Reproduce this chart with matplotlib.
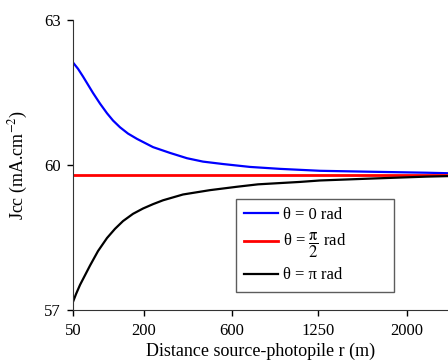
import matplotlib
matplotlib.use('Agg')
import matplotlib.pyplot as plt

plt.rcParams['font.family'] = ['Liberation Serif', 'DejaVu Serif']
plt.rcParams['mathtext.fontset'] = 'stix'

# position along the (non-uniform) distance axis, and the labels shown at the ticks
tick_pos = [0, 71, 159, 245, 334]
tick_labels = ['50', '200', '600', '1250', '2000']
x_end = 375

x_theta0 = [0, 5, 10, 15, 20, 27, 34, 40, 47, 55, 64, 80, 97, 114, 130, 150,
            177, 207, 247, 299, 354, 375]
jcc_theta0 = [62.12, 61.99, 61.83, 61.66, 61.49, 61.27, 61.07, 60.92, 60.78, 60.65,
              60.54, 60.37, 60.25, 60.14, 60.07, 60.02, 59.96, 59.92, 59.88, 59.86,
              59.84, 59.83]

x_theta_half_pi = [0, 375]
jcc_theta_half_pi = [59.80, 59.80]

x_theta_pi = [0, 3, 7, 12, 17, 25, 34, 42, 50, 60, 70, 80, 90, 110, 137, 164,
              185, 227, 247, 299, 354, 375]
jcc_theta_pi = [57.17, 57.33, 57.52, 57.72, 57.92, 58.22, 58.49, 58.68, 58.84, 58.99,
                59.10, 59.19, 59.27, 59.39, 59.48, 59.55, 59.60, 59.65, 59.68, 59.72,
                59.76, 59.77]

fig = plt.figure(figsize=(4.48, 3.62), dpi=100)
ax = fig.add_axes([0.163, 0.1436, 0.837, 0.8012])

ax.plot(x_theta0, jcc_theta0, color='#0000ff', lw=1.6, label='θ = 0 rad')
ax.plot(x_theta_half_pi, jcc_theta_half_pi, color='#ff0000', lw=2.0,
        label=r'θ = $\dfrac{\mathrm{\pi}}{2}$ rad')
ax.plot(x_theta_pi, jcc_theta_pi, color='black', lw=1.6, label='θ = π rad')

ax.set_xlim(0, x_end)
ax.set_ylim(57, 63)
ax.set_xticks(tick_pos)
ax.set_xticklabels(tick_labels)
ax.set_yticks([57, 60, 63])
ax.tick_params(labelsize=12, length=4, width=1, direction='out', pad=5)

ax.spines['top'].set_visible(False)
ax.spines['right'].set_visible(False)
ax.spines['left'].set_color('#333333')
ax.spines['bottom'].set_color('#333333')

ax.set_xlabel('Distance source-photopile r (m)', fontsize=13, labelpad=3)
ax.set_ylabel('Jcc (mA.cm$^{-2}$)', fontsize=13, labelpad=10)

leg = ax.legend(loc='upper left', bbox_to_anchor=(0.435, 0.383, 0.421, 0.0),
                mode='expand', fontsize=12,
                frameon=True, fancybox=False, edgecolor='#333333',
                handlelength=2.0, handletextpad=0.3, labelspacing=0.45,
                borderpad=0.5, borderaxespad=0)
leg.get_frame().set_linewidth(1.0)

fig.savefig('out.png', dpi=100)
